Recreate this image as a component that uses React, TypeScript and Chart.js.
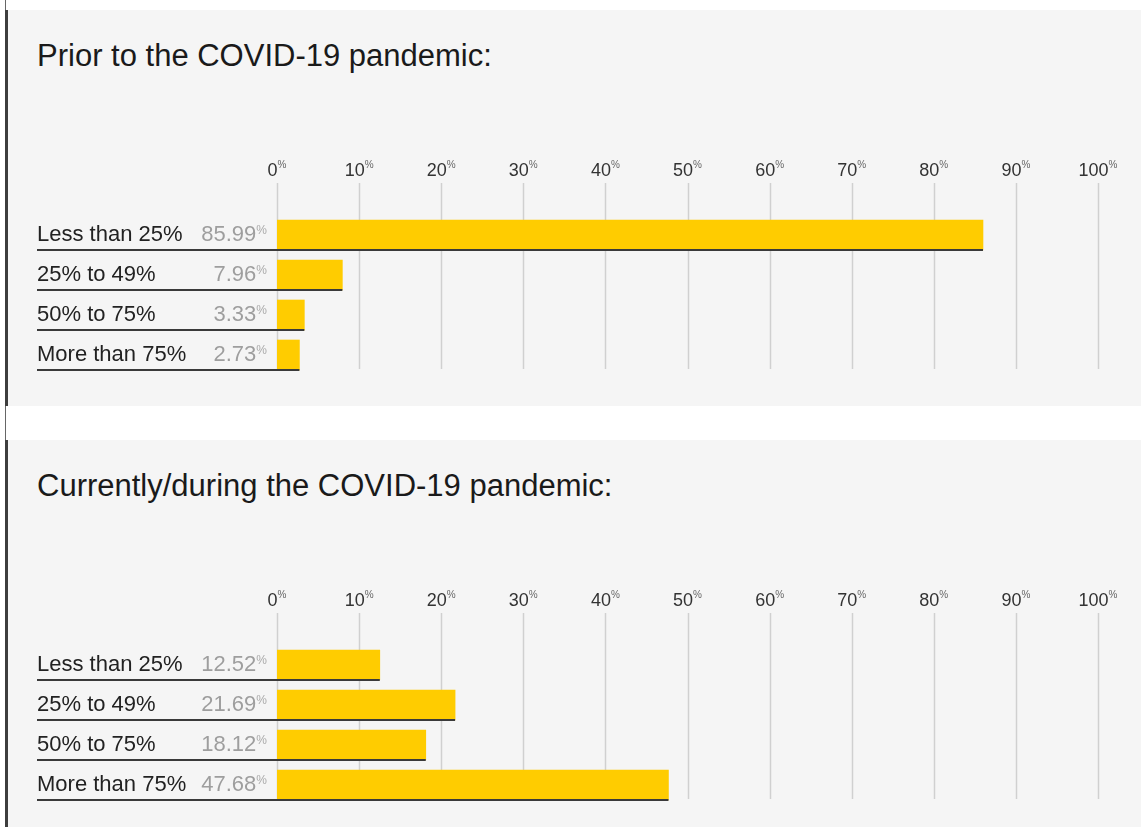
import React, { useEffect, useRef } from "react";
import { Chart, registerables } from "chart.js";

Chart.register(...registerables);

const categories = ["Less than 25%", "25% to 49%", "50% to 75%", "More than 75%"];
const priorValues = [85.99, 7.96, 3.33, 2.73];
const currentValues = [12.52, 21.69, 18.12, 47.68];
const tickValues = [0, 10, 20, 30, 40, 50, 60, 70, 80, 90, 100];
const priorTitle = "Prior to the COVID-19 pandemic:";
const currentTitle = "Currently/during the COVID-19 pandemic:";

const FONT = '"Liberation Sans", Arial, Helvetica, sans-serif';

function drawSup(
  ctx: CanvasRenderingContext2D,
  x: number,
  baseline: number,
  main: string,
  mainFont: string,
  mainColor: string,
  sup: string,
  supFont: string,
  supColor: string,
  align: "left" | "center" | "right",
  raise: number
) {
  ctx.font = mainFont;
  const wm = ctx.measureText(main).width;
  ctx.font = supFont;
  const ws = ctx.measureText(sup).width;
  const total = wm + ws;
  const sx = align === "left" ? x : align === "center" ? x - total / 2 : x - total;
  ctx.textAlign = "left";
  ctx.textBaseline = "alphabetic";
  ctx.font = mainFont;
  ctx.fillStyle = mainColor;
  ctx.fillText(main, sx, baseline);
  ctx.font = supFont;
  ctx.fillStyle = supColor;
  ctx.fillText(sup, sx + wm, baseline - raise);
}

const TICK_BASELINE = 36;
const GRID_TOP = 43;
const LABEL_X = 29;

const decorPlugin = {
  id: "decor",
  beforeDatasetsDraw(chart: any) {
    const ctx: CanvasRenderingContext2D = chart.ctx;
    const xs = chart.scales.x;
    const meta = chart.getDatasetMeta(0);
    const last = meta.data[meta.data.length - 1].getProps(["y", "height"], true);
    const gridBottom = last.y + last.height / 2 - 1;
    ctx.save();
    tickValues.forEach((v) => {
      const gx = Math.round(xs.getPixelForValue(v)) + 0.5;
      ctx.strokeStyle = "#d0d0d0";
      ctx.lineWidth = 1.5;
      ctx.beginPath();
      ctx.moveTo(gx, GRID_TOP);
      ctx.lineTo(gx, gridBottom);
      ctx.stroke();
      drawSup(
        ctx,
        xs.getPixelForValue(v),
        TICK_BASELINE,
        String(v),
        `18px ${FONT}`,
        "#333333",
        "%",
        `10px ${FONT}`,
        "#666666",
        "center",
        8
      );
    });
    ctx.restore();
  },
  afterDatasetsDraw(chart: any) {
    const ctx: CanvasRenderingContext2D = chart.ctx;
    const meta = chart.getDatasetMeta(0);
    const values = chart.data.datasets[0].data as number[];
    ctx.save();
    meta.data.forEach((el: any, i: number) => {
      const p = el.getProps(["x", "y", "base", "height"], true);
      const bottom = p.y + p.height / 2;
      const baseline = bottom - 9;
      // row underline
      ctx.strokeStyle = "#3a3a3a";
      ctx.lineWidth = 2;
      ctx.beginPath();
      ctx.moveTo(LABEL_X, Math.round(bottom));
      ctx.lineTo(p.x, Math.round(bottom));
      ctx.stroke();
      // category label
      ctx.font = `22px ${FONT}`;
      ctx.fillStyle = "#222222";
      ctx.textAlign = "left";
      ctx.textBaseline = "alphabetic";
      ctx.fillText(String(chart.data.labels[i]), LABEL_X, baseline);
      // value
      drawSup(
        ctx,
        p.base - 10,
        baseline,
        values[i].toFixed(2),
        `22px ${FONT}`,
        "#9e9e9e",
        "%",
        `12px ${FONT}`,
        "#aaaaaa",
        "right",
        7
      );
    });
    ctx.restore();
  },
};

function BarPanel({ title, values, top }: { title: string; values: number[]; top: number }) {
  const ref = useRef<HTMLCanvasElement>(null);
  useEffect(() => {
    if (!ref.current) return;
    const chart = new Chart(ref.current, {
      type: "bar",
      data: {
        labels: categories,
        datasets: [
          {
            data: values,
            backgroundColor: "#ffcc00",
            borderWidth: 0,
            barThickness: 30,
          },
        ],
      },
      options: {
        indexAxis: "y",
        responsive: false,
        animation: false,
        devicePixelRatio: 1,
        layout: { padding: { left: 269, right: 43, top: 75, bottom: 25 } },
        scales: {
          x: { type: "linear", min: 0, max: 100, display: false },
          y: { type: "category", display: false, offset: true },
        },
        plugins: { legend: { display: false }, tooltip: { enabled: false } },
      } as any,
      plugins: [decorPlugin as any],
    });
    return () => chart.destroy();
  }, [values]);

  return (
    <div
      style={{
        position: "absolute",
        left: 5,
        top,
        width: 1136,
        height: 396,
        background: "#f5f5f5",
        borderLeft: "3px solid #3d3d3d",
        boxSizing: "border-box",
      }}
    >
      <div
        style={{
          position: "absolute",
          left: 29,
          top: 28,
          font: `31px ${FONT}`,
          lineHeight: "36px",
          color: "#1a1a1a",
          whiteSpace: "nowrap",
        }}
      >
        {title}
      </div>
      <canvas
        ref={ref}
        width={1133}
        height={260}
        style={{ position: "absolute", left: 0, top: 130, width: 1133, height: 260 }}
      />
    </div>
  );
}

export default function App() {
  return (
    <div
      style={{
        position: "absolute",
        left: 0,
        top: 0,
        width: 1141,
        height: 827,
        background: "#ffffff",
        overflow: "hidden",
      }}
    >
      <div style={{ position: "absolute", left: 5, top: 0, width: 1, height: 827, background: "#666666" }} />
      <BarPanel title={priorTitle} values={priorValues} top={10} />
      <BarPanel title={currentTitle} values={currentValues} top={440} />
    </div>
  );
}
